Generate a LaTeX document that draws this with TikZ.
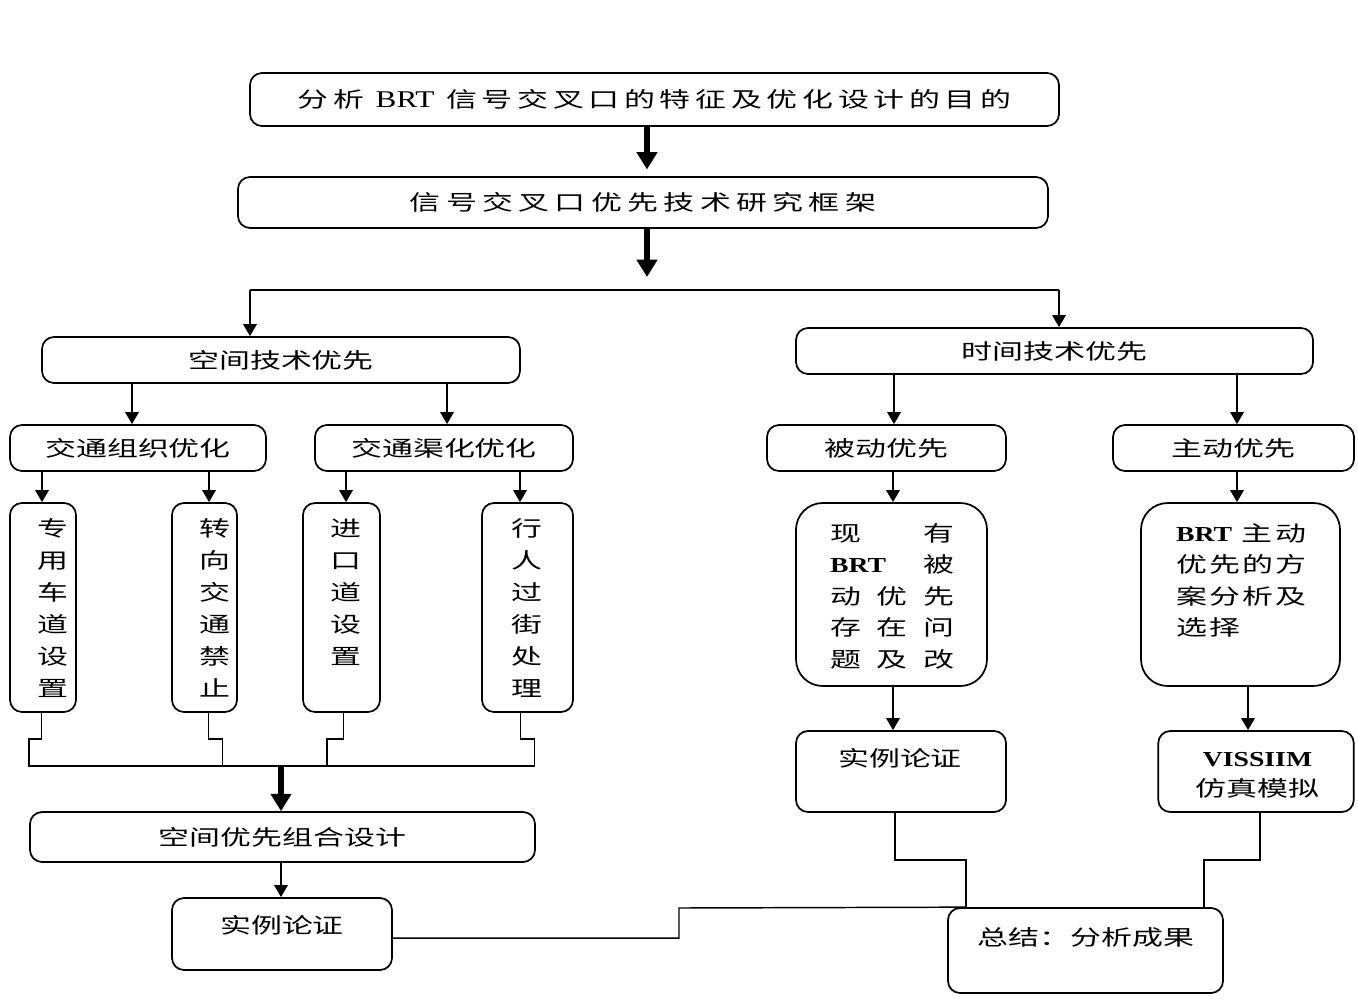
\documentclass[tikz,border=0pt]{standalone}
\usepackage{fontspec}
\setmainfont{Liberation Serif}[FakeStretch=1.3]
\newfontfamily\cjk[FakeStretch=1.45]{Noto Sans CJK SC}
\newfontfamily\cjkA[FakeStretch=1.45,LetterSpace=22]{Noto Sans CJK SC}
\newfontfamily\cjkB[FakeStretch=1.45,LetterSpace=25]{Noto Sans CJK SC}
\usetikzlibrary{arrows.meta}
\begin{document}
\begin{tikzpicture}[x=0.75pt,y=-0.75pt,
  font=\fontsize{16}{24}\selectfont\cjk,
  box/.style={draw, line width=1.3pt, rounded corners=9pt, inner sep=0pt},
  bigbox/.style={box, rounded corners=20pt},
  txt/.style={inner sep=0pt},
  arr/.style={line width=1.6pt, -{Triangle[length=9pt,width=10pt]}},
  bigarr/.style={line width=4.5pt, -{Triangle[length=13pt,width=15pt]}},
  wire/.style={line width=1.1pt}]
\useasboundingbox (0,0) rectangle (1358,1000);

% top boxes
\node[box, minimum width=606.75pt, minimum height=39.75pt] (b1) at (654.5,99.5)
  {\cjkA 分析 {\rmfamily\fontsize{18}{24}\selectfont BRT} 信号交叉口的特征及优化设计的目的};
\node[box, minimum width=607.5pt, minimum height=38.25pt] (b2) at (643,202.5)
  {\cjkB 信号交叉口优先技术研究框架};

% second level
\node[box, minimum width=358.5pt, minimum height=34.5pt] (sp) at (281,360) {空间技术优先};
\node[box, minimum width=387.75pt, minimum height=34.5pt] (tm) at (1054.5,351) {时间技术优先};

% third level
\node[box, minimum width=192pt, minimum height=34.5pt] (org) at (138,448) {交通组织优化};
\node[box, minimum width=193.5pt, minimum height=34.5pt] (chn) at (444,448) {交通渠化优化};
\node[box, minimum width=179.25pt, minimum height=34.5pt] (pas) at (886.5,448) {被动优先};
\node[box, minimum width=180.75pt, minimum height=34.5pt] (act) at (1233.5,448) {主动优先};

% vertical boxes
\node[box, minimum width=49.5pt, minimum height=156.75pt] (v1) at (43,607.5) {};
\node[box, minimum width=48.75pt, minimum height=156.75pt] (v2) at (204.5,607.5) {};
\node[box, minimum width=57.75pt, minimum height=156.75pt] (v3) at (341.5,607.5) {};
\node[box, minimum width=68.25pt, minimum height=156.75pt] (v4) at (527.5,607.5) {};
\node[txt, align=center] (v1t) at (53,608) {专\\用\\车\\道\\设\\置};
\node[txt, align=center] (v2t) at (215,608) {转\\向\\交\\通\\禁\\止};
\node[txt, align=center] (v3t) at (345.6,592) {进\\口\\道\\设\\置};
\node[txt, align=center] (v4t) at (527,608) {行\\人\\过\\街\\处\\理};

% right tall boxes
\node[bigbox, minimum width=143.25pt, minimum height=137.25pt] (ex) at (891.5,594.5) {};
\node[txt, align=left, font=\fontsize{16}{23.6}\selectfont\cjk] (ext) at (892,596)
  {\hbox to 93pt{现\hfill 有}\\
   \hbox to 93pt{{\rmfamily\bfseries BRT}\hfill 被}\\
   \hbox to 93pt{动\hfill 优\hfill 先}\\
   \hbox to 93pt{存\hfill 在\hfill 问}\\
   \hbox to 93pt{题\hfill 及\hfill 改}};
\node[bigbox, minimum width=149.25pt, minimum height=137.25pt] (ac2) at (1240.5,594.5) {};
\node[txt, align=left, font=\fontsize{16}{23.6}\selectfont\cjk] (ac2t) at (1241,580.5)
  {\hbox to 97.5pt{{\rmfamily\bfseries BRT}\hfill 主\hspace{2pt}动}\\
   \hbox to 97.5pt{优\hfill 先\hfill 的\hfill 方}\\
   \hbox to 97.5pt{案\hfill 分\hfill 析\hfill 及}\\
   \hbox to 97.5pt{选\hspace{2pt}择\hfill}};

\node[box, minimum width=157.5pt, minimum height=60.75pt] (cs1) at (901,771.5) {};
\node[txt] (cs1t) at (900,758) {实例论证};
\node[box, minimum width=146.6pt, minimum height=60.75pt] (vs) at (1256,771.5) {};
\node[txt, align=center, font=\fontsize{16}{22.5}\selectfont\cjk] (vst) at (1257.5,775)
  {{\rmfamily\bfseries VISSIIM}\\仿真模拟};

% bottom left
\node[box, minimum width=378.75pt, minimum height=37.5pt] (cmb) at (282.5,837) {空间优先组合设计};
\node[box, minimum width=165pt, minimum height=54pt] (cs0) at (282,934) {};
\node[txt] (cs0t) at (282,925) {实例论证};

% summary
\node[box, minimum width=206.25pt, minimum height=63.75pt] (sum) at (1085.5,950.5) {};
\node[txt] (sumt) at (1086,937) {总结：分析成果};

% connectors top
\coordinate (tx) at (647,0);
\draw[bigarr, shorten >=5pt] (b1.south -| tx) -- (b2.north -| tx);
\coordinate (split) at (647,277);
\draw[bigarr] (b2.south -| tx) -- (split);
\coordinate (hL) at (250,290);
\coordinate (hR) at (1059,290);
\draw[wire, line width=1.4pt] (hL) -- (hR);
\draw[arr] (hL) -- (sp.north -| hL);
\draw[arr] (hR) -- (tm.north -| hR);

\draw[arr] (sp.south -| 132,0) -- (org.north -| 132,0);
\draw[arr] (sp.south -| 447,0) -- (chn.north -| 447,0);
\draw[arr] (tm.south -| 894,0) -- (pas.north -| 894,0);
\draw[arr] (tm.south -| 1237,0) -- (act.north -| 1237,0);

\draw[arr] (org.south -| 42,0) -- (v1.north -| 42,0);
\draw[arr] (org.south -| 209,0) -- (v2.north -| 209,0);
\draw[arr] (chn.south -| 346,0) -- (v3.north -| 346,0);
\draw[arr] (chn.south -| 520,0) -- (v4.north -| 520,0);

\draw[arr] (pas.south -| 893,0) -- (ex.north -| 893,0);
\draw[arr] (act.south -| 1237,0) -- (ac2.north -| 1237,0);
\draw[arr] (ex.south -| 893,0) -- (cs1.north -| 893,0);
\draw[arr] (ac2.south -| 1248,0) -- (vs.north -| 1248,0);

% stepped wires to bus
\coordinate (bus) at (281,766);
\draw[wire] (v1.south -| 41.5,0) -- (41.5,739) -- (29,739) -- (29,766) -- (534.6,766);
\draw[wire] (v2.south -| 208.5,0) -- (208.5,739) -- (222.7,739) -- (222.7,766);
\draw[wire] (v3.south -| 343.6,0) -- (343.6,739) -- (327,739) -- (327,766);
\draw[wire] (v4.south -| 520.4,0) -- (520.4,739) -- (534.6,739) -- (534.6,766);
\draw[bigarr] (bus) -- (cmb.north -| bus);
\draw[arr] (cmb.south -| 281,0) -- (cs0.north -| 281,0);

% wires to summary
\draw[wire] (cs0.east |- 0,938) -- (679,938) -- (679,908) -- (sum.north -| 966,0);
\draw[wire] (cs1.south -| 895,0) -- (895,860) -- (966,860) -- (sum.north -| 966,0);
\draw[wire] (vs.south -| 1260,0) -- (1260,860) -- (1204,860) -- (sum.north -| 1204,0);
\end{tikzpicture}
\end{document}
